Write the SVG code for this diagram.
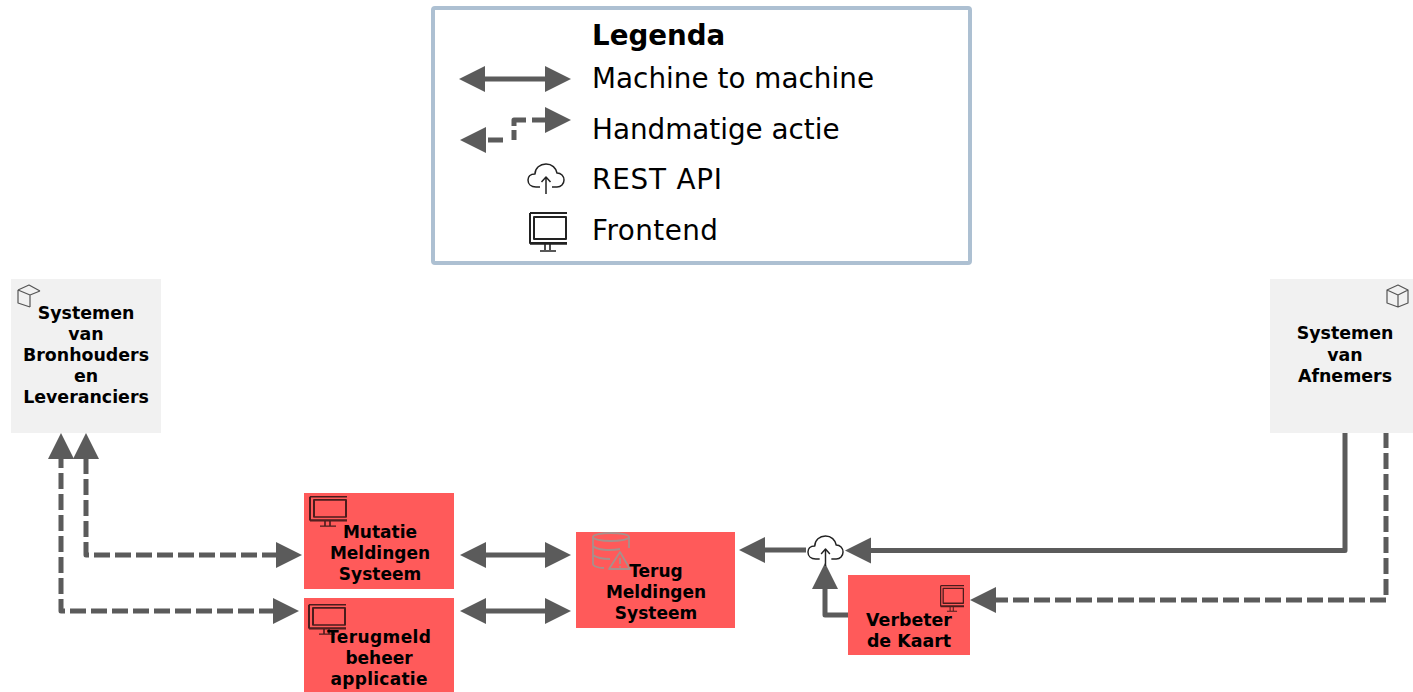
<svg xmlns="http://www.w3.org/2000/svg" width="1413" height="692" viewBox="0 0 1413 692">
<style>
text{font-family:"DejaVu Sans",Verdana,sans-serif;fill:#000}
.lg{font-size:27.800px}
.lb{font-size:17px;font-weight:700;text-anchor:middle}
.lw{font-size:17.400px}
.red{fill:#ff5a5a}
.gry{fill:#f1f1f1}
.c{fill:none;stroke:#5b5b5b;stroke-width:5;stroke-linejoin:round}
.d{stroke-dasharray:16 5}
.a{marker-end:url(#ah)}
.b{marker-start:url(#ah);marker-end:url(#ah)}
.ic{fill:none;stroke-linejoin:round}
</style>
<defs>
<marker id="ah" markerUnits="userSpaceOnUse" markerWidth="26" markerHeight="26" refX="4" refY="13" orient="auto-start-reverse" overflow="visible"><path d="M0,0L26,13L0,26z" fill="#5b5b5b"/></marker>
<symbol id="mon" viewBox="0 0 38 40" preserveAspectRatio="none" overflow="visible"><path class="ic" stroke-width="2" d="M1,1H38M1,1V31H38M5,5H37V27H5z"/><path class="ic" stroke-width="1.600" d="M1,32H38M16,32V38M21,32V38M11,39H27"/></symbol>
<symbol id="cloud" viewBox="0 0 38 32" preserveAspectRatio="none" overflow="visible"><path class="ic" stroke-width="1.500" d="M13,24H9C4,24 1,21 1,17C1,14 3,11 8,11C8,5 13,1 19,1C25,1 29,5 30,10C34,10 37,13 37,17C37,21 34,24 30,24H25M19,31V14M14.500,19L19,14L23.500,19"/></symbol>
</defs>

<g id="legend">
<rect x="433" y="8" width="537" height="255" rx="2" fill="#fff" stroke="#adc0d2" stroke-width="4"/>
<text x="592" y="45" font-size="27.700" font-weight="700">Legenda</text>
<text class="lg" x="592" y="88" textLength="282">Machine to machine</text>
<text class="lg" x="592" y="139">Handmatige actie</text>
<text class="lg" x="592" y="189" textLength="130">REST API</text>
<text class="lg" x="592" y="240" textLength="126">Frontend</text>
<use href="#cloud" x="527" y="163" width="38" height="32" stroke="#222"/>
<use href="#mon" x="529" y="212" width="38" height="40" stroke="#222"/>
</g>

<g id="connectors">
<path class="c b" d="M481,79H549"/>
<path class="c b" d="M482,140H514V120H549" stroke-dasharray="0 6 15 11 10 4 18 6 20 100"/>
<path class="c d b" d="M86,455V555H280" stroke-dashoffset="-3"/>
<path class="c d b" d="M61,455V611H277" stroke-dashoffset="3"/>
<path class="c b" d="M482,555H549"/>
<path class="c b" d="M482,611H549"/>
<path class="c a" d="M806,550H761"/>
<path class="c a" d="M1345,433V550.500H867"/>
<path class="c a" d="M848,615H825V585"/>
<path class="c d a" d="M1386,432V600H992"/>
</g>

<g id="node-bronhouders">
<rect class="gry" x="11" y="279" width="150" height="154"/>
<path class="ic" stroke="#555" stroke-width="1.200" d="M18,290L29,285L40,291M18,290V303L30,307M18,290L30,295M30,295V307M30,295L40,291"/>
<text class="lb lw" x="86" y="319">Systemen</text>
<text class="lb lw" x="86" y="340">van</text>
<text class="lb lw" x="86" y="361">Bronhouders</text>
<text class="lb lw" x="86" y="382">en</text>
<text class="lb lw" x="86" y="403">Leveranciers</text>
</g>
<g id="node-afnemers">
<rect class="gry" x="1270" y="279" width="143" height="154"/>
<path class="ic" stroke="#555" stroke-width="1.200" d="M1387,290L1398,285L1408,290V303L1398,307L1387,303zM1387,290L1398,295L1408,290M1398,295V307"/>
<text class="lb lw" x="1345" y="339">Systemen</text>
<text class="lb lw" x="1345" y="361">van</text>
<text class="lb lw" x="1345" y="382">Afnemers</text>
</g>
<g id="node-mutatie">
<rect class="red" x="304" y="493" width="150" height="96"/>
<use href="#mon" x="309" y="496" width="38" height="31" stroke="#4a1c1c"/>
<text class="lb" x="380" y="538">Mutatie</text>
<text class="lb" x="380" y="559">Meldingen</text>
<text class="lb" x="380" y="580">Systeem</text>
</g>
<g id="node-terugmeld">
<rect class="red" x="304" y="598" width="150" height="94"/>
<use href="#mon" x="308" y="604" width="38" height="31" stroke="#4a1c1c"/>
<text class="lb" x="379" y="643" textLength="104">Terugmeld</text>
<text class="lb" x="379" y="664">beheer</text>
<text class="lb" x="379" y="685" textLength="97">applicatie</text>
</g>
<g id="node-terug">
<rect class="red" x="576" y="532" width="159" height="96"/>
<g class="ic" stroke="#a8908c" stroke-width="1.800">
<ellipse cx="611" cy="537" rx="18" ry="4"/>
<path d="M593,537V564C593,566 598,568 604,568M629,537V548M593,546C597,550 610,551 620,549M593,555C597,558 604,559 610,559"/>
<path d="M620,552L609,569H630zM620,558V564M620,566V567.500"/>
</g>
<text class="lb" x="656" y="577">Terug</text>
<text class="lb" x="656" y="598">Meldingen</text>
<text class="lb" x="656" y="619">Systeem</text>
</g>
<g id="node-verbeter">
<rect class="red" x="848" y="575" width="122" height="80"/>
<use href="#mon" x="940" y="585" width="24" height="27" stroke="#4a1c1c"/>
<text class="lb lw" x="909" y="626">Verbeter</text>
<text class="lb lw" x="909" y="647">de Kaart</text>
</g>
<g id="node-api">
<use href="#cloud" x="807" y="535" width="37" height="32" stroke="#222"/>
</g>
</svg>
